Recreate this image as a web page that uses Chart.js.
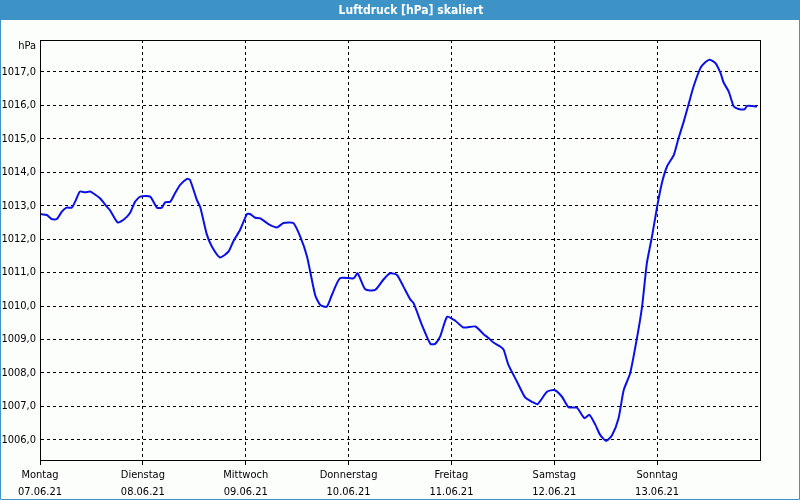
<!DOCTYPE html>
<html>
<head>
<meta charset="utf-8">
<title>Luftdruck</title>
<script src="https://cdn.jsdelivr.net/npm/chart.js@4/dist/chart.umd.min.js"></script>
<style>
  html, body { margin: 0; padding: 0; background: #fcfefc; }
  canvas { display: block; }
</style>
</head>
<body>
<canvas id="pressureChart" width="800" height="500"></canvas>
<script>
// hours since Monday 07.06.21 00:00
const hours = [
  0, 1.6, 2.7, 3.9, 5.1, 6.2, 7.4, 8.2, 9.3, 10.5, 11.7, 12.4, 14.0, 15.6, 16.3, 18.1, 19.5, 21.0, 22.2, 23.4,
  25.7, 27.3, 28.4, 29.2, 30.4, 31.5, 32.7, 34.3, 35.0, 36.6, 37.4, 38.9, 40.1, 42.0, 44.0, 45.1, 46.7,
  48.3, 49.0, 50.2, 51.4, 53.3, 55.3, 56.8, 59.1, 60.7, 62.3, 64.2, 65.4, 66.9, 68.1, 70.0,
  73.2, 74.1, 75.9, 78.2, 80.2, 81.7, 83.3, 84.8, 86.4, 87.2, 89.1, 91.1, 92.2, 93.4, 95.0,
  96.9, 98.8, 101.6, 103.5, 104.7, 105.8, 107.4, 108.2, 109.3, 111.3, 113.2, 114.8, 116.1, 118.3,
  120.0, 121.8, 123.3, 125.3, 127.0, 128.2, 129.6, 130.7, 132.1, 133.5, 135.0, 136.2, 137.7, 139.3,
  140.5, 141.6, 142.8, 144.0, 145.1, 146.3, 147.9, 149.0, 150.2, 151.4, 152.5, 154.1, 155.3, 156.3,
  157.6, 158.8, 159.5, 160.7, 161.9, 163.0, 164.4, 165.0, 166.2, 167.3
];
const pressure = [
  1012.75, 1012.72, 1012.6, 1012.6, 1012.82, 1012.94, 1012.94, 1013.12, 1013.42, 1013.4, 1013.42, 1013.37, 1013.22, 1012.97, 1012.87, 1012.5, 1012.58, 1012.78, 1013.12, 1013.27,
  1013.27, 1012.94, 1012.94, 1013.1, 1013.12, 1013.37, 1013.62, 1013.8, 1013.77, 1013.17, 1012.95, 1012.15, 1011.78, 1011.45, 1011.63, 1011.93, 1012.28,
  1012.75, 1012.75, 1012.64, 1012.62, 1012.45, 1012.35, 1012.48, 1012.48, 1012.08, 1011.48, 1010.33, 1010.03, 1009.98, 1010.33, 1010.83,
  1010.83, 1010.98, 1010.5, 1010.48, 1010.8, 1010.98, 1010.93, 1010.58, 1010.2, 1010.08, 1009.44, 1008.87, 1008.87, 1009.1, 1009.68,
  1009.56, 1009.36, 1009.39, 1009.16, 1009.04, 1008.91, 1008.79, 1008.69, 1008.24, 1007.74, 1007.27, 1007.14, 1007.07, 1007.44,
  1007.49, 1007.29, 1006.98, 1006.96, 1006.65, 1006.75, 1006.45, 1006.15, 1005.97, 1006.15, 1006.65, 1007.49, 1007.99, 1009.05,
  1010.0, 1011.28, 1012.08, 1012.97, 1013.67, 1014.17, 1014.52, 1015.02, 1015.51, 1016.06, 1016.56, 1017.11, 1017.29, 1017.36,
  1017.26, 1016.96, 1016.68, 1016.41, 1015.96, 1015.89, 1015.88, 1015.98, 1015.98, 1015.96
];
const dayNames = ['Montag', 'Dienstag', 'Mittwoch', 'Donnerstag', 'Freitag', 'Samstag', 'Sonntag'];
const dayDates = ['07.06.21', '08.06.21', '09.06.21', '10.06.21', '11.06.21', '12.06.21', '13.06.21'];
const titleText = 'Luftdruck [hPa] skaliert';
const unitText = 'hPa';

const frameBlue = '#3d93c5';

const framePlugin = {
  id: 'frame',
  beforeDraw(chart) {
    const { ctx, width, height } = chart;
    ctx.save();
    ctx.fillStyle = '#fcfefc';
    ctx.fillRect(0, 0, width, height);
    ctx.fillStyle = frameBlue;
    ctx.fillRect(0, 0, width, 20);
    ctx.fillStyle = '#ffffff';
    ctx.font = 'bold 12px Tahoma, "DejaVu Sans Condensed", "Liberation Sans", sans-serif';
    ctx.textAlign = 'center';
    ctx.textBaseline = 'middle';
    ctx.fillText(titleText, 411, 11);
    ctx.restore();
  },
  afterDraw(chart) {
    const { ctx, chartArea, width, height } = chart;
    ctx.save();
    // plot frame
    ctx.strokeStyle = '#000';
    ctx.lineWidth = 1;
    ctx.strokeRect(chartArea.left + 0.5, chartArea.top + 0.5, chartArea.right - chartArea.left, chartArea.bottom - chartArea.top);
    // unit label
    ctx.fillStyle = '#000';
    ctx.font = '11px Tahoma, "DejaVu Sans Condensed", "Liberation Sans", sans-serif';
    ctx.textAlign = 'right';
    ctx.textBaseline = 'middle';
    ctx.fillText(unitText, chartArea.left - 4, chartArea.top + 6);
    // outer window border
    ctx.strokeStyle = frameBlue;
    ctx.beginPath();
    ctx.moveTo(0.5, 20);
    ctx.lineTo(0.5, height - 0.5);
    ctx.lineTo(width - 0.5, height - 0.5);
    ctx.lineTo(width - 0.5, 20);
    ctx.stroke();
    ctx.restore();
  },
};

Chart.defaults.font.family = 'Tahoma, "DejaVu Sans Condensed", "Liberation Sans", sans-serif';
Chart.defaults.font.size = 11;
Chart.defaults.color = '#000';

new Chart(document.getElementById('pressureChart'), {
  type: 'line',
  data: {
    datasets: [{
      label: 'Luftdruck',
      data: hours.map((h, i) => ({ x: h, y: pressure[i] })),
      borderColor: '#0a10e6',
      borderWidth: 2,
      pointRadius: 0,
      tension: 0.2,
      fill: false,
    }],
  },
  options: {
    responsive: false,
    animation: false,
    layout: { padding: { top: 40, right: 40, left: 0, bottom: 0 } },
    scales: {
      x: {
        type: 'linear',
        min: 0,
        max: 168,
        afterFit(scale) { scale.height = 40; },
        grid: {
          color: '#000',
          lineWidth: 1,
          tickLength: 5,
          tickColor: c => (c.tick && c.tick.value >= 168 ? 'rgba(0,0,0,0)' : '#000'),
        },
        border: { color: '#000', dash: [3, 3] },
        ticks: {
          stepSize: 24,
          autoSkip: false,
          maxRotation: 0,
          padding: 2,
          font: { size: 11, lineHeight: 1.55 },
          callback(value) {
            const i = Math.round(value / 24);
            return i < dayNames.length ? [dayNames[i], dayDates[i]] : '';
          },
        },
      },
      y: {
        min: 1005.4,
        max: 1017.95,
        afterFit(scale) { scale.width = 40; },
        grid: { color: '#000', lineWidth: 1, drawTicks: false },
        border: { color: '#000', dash: [3, 3] },
        ticks: {
          stepSize: 1,
          includeBounds: false,
          padding: 4,
          callback: v => v.toFixed(1).replace('.', ','),
        },
      },
    },
    plugins: {
      legend: { display: false },
      tooltip: { enabled: false },
      title: { display: false },
    },
  },
  plugins: [framePlugin],
});
</script>
</body>
</html>
